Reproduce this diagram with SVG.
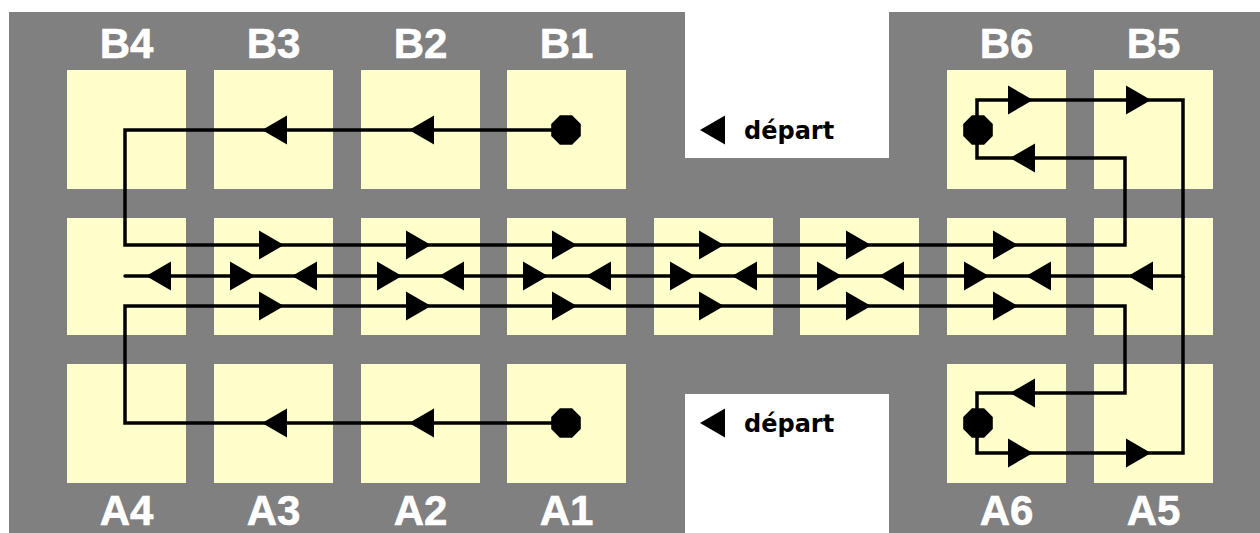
<svg xmlns="http://www.w3.org/2000/svg" xmlns:xlink="http://www.w3.org/1999/xlink" width="1260" height="533" viewBox="0 0 1260 533">
<style>
.cell{fill:#FFFFCC}
.lbl{font-family:"Liberation Sans",Arial,sans-serif;font-weight:bold;font-size:42px;fill:#FFFFFF;text-anchor:middle;stroke:#FFFFFF;stroke-width:0.6}
.dep{font-family:"DejaVu Sans",Verdana,sans-serif;font-weight:bold;font-size:24px;fill:#000000}
.ln{fill:none;stroke:#000000;stroke-width:3.5;stroke-linejoin:miter}
</style>
<defs>
<path id="ar" d="M0,0 L-25,-14.5 L-25,14.5 Z" fill="#000"/>
<path id="al" d="M0,0 L25,-14.5 L25,14.5 Z" fill="#000"/>
<path id="dot" d="M14.8,6.1 L6.1,14.8 L-6.1,14.8 L-14.8,6.1 L-14.8,-6.1 L-6.1,-14.8 L6.1,-14.8 L14.8,-6.1 Z" fill="#000"/>
</defs>
<rect width="1260" height="533" fill="#FFFFFF"/>
<path d="M9,12 H685 V158 H889 V12 H1260 V533 H889 V394 H685 V533 H9 Z" fill="#808080"/>

<g id="B4"><rect class="cell" x="67" y="70" width="119" height="119"/><text class="lbl" x="126.5" y="58">B4</text></g>
<g id="B3"><rect class="cell" x="214" y="70" width="119" height="119"/><text class="lbl" x="273.5" y="58">B3</text></g>
<g id="B2"><rect class="cell" x="361" y="70" width="119" height="119"/><text class="lbl" x="420.5" y="58">B2</text></g>
<g id="B1"><rect class="cell" x="507" y="70" width="119" height="119"/><text class="lbl" x="566.5" y="58">B1</text></g>
<g id="B6"><rect class="cell" x="947" y="70" width="119" height="119"/><text class="lbl" x="1006.5" y="58">B6</text></g>
<g id="B5"><rect class="cell" x="1094" y="70" width="119" height="119"/><text class="lbl" x="1153.5" y="58">B5</text></g>

<g id="M1"><rect class="cell" x="67" y="218" width="119" height="117"/></g>
<g id="M2"><rect class="cell" x="214" y="218" width="119" height="117"/></g>
<g id="M3"><rect class="cell" x="361" y="218" width="119" height="117"/></g>
<g id="M4"><rect class="cell" x="507" y="218" width="119" height="117"/></g>
<g id="M5"><rect class="cell" x="654" y="218" width="119" height="117"/></g>
<g id="M6"><rect class="cell" x="800" y="218" width="119" height="117"/></g>
<g id="M7"><rect class="cell" x="947" y="218" width="119" height="117"/></g>
<g id="M8"><rect class="cell" x="1094" y="218" width="119" height="117"/></g>

<g id="A4"><rect class="cell" x="67" y="364" width="119" height="119"/><text class="lbl" x="126.5" y="525">A4</text></g>
<g id="A3"><rect class="cell" x="214" y="364" width="119" height="119"/><text class="lbl" x="273.5" y="525">A3</text></g>
<g id="A2"><rect class="cell" x="361" y="364" width="119" height="119"/><text class="lbl" x="420.5" y="525">A2</text></g>
<g id="A1"><rect class="cell" x="507" y="364" width="119" height="119"/><text class="lbl" x="566.5" y="525">A1</text></g>
<g id="A6"><rect class="cell" x="947" y="364" width="119" height="119"/><text class="lbl" x="1006.5" y="525">A6</text></g>
<g id="A5"><rect class="cell" x="1094" y="364" width="119" height="119"/><text class="lbl" x="1153.5" y="525">A5</text></g>

<g id="depart-top"><use xlink:href="#al" x="700" y="130"/><text class="dep" x="744" y="139">départ</text></g>
<g id="depart-bottom"><use xlink:href="#al" x="700" y="423"/><text class="dep" x="744" y="432">départ</text></g>

<g id="connectors">
<path class="ln" d="M566,130 H125 V245 H1125 V158 H977 V100 H1183 V276 H125" stroke-linecap="round"/>
<path class="ln" d="M566,423 H125 V306 H1125 V393 H977 V453 H1183 V276"/>
<use xlink:href="#al" x="262" y="130"/>
<use xlink:href="#al" x="409" y="130"/>
<use xlink:href="#al" x="262" y="423"/>
<use xlink:href="#al" x="409" y="423"/>
<use xlink:href="#ar" x="284" y="245"/>
<use xlink:href="#ar" x="431" y="245"/>
<use xlink:href="#ar" x="577" y="245"/>
<use xlink:href="#ar" x="724" y="245"/>
<use xlink:href="#ar" x="871" y="245"/>
<use xlink:href="#ar" x="1018" y="245"/>
<use xlink:href="#ar" x="284" y="306"/>
<use xlink:href="#ar" x="431" y="306"/>
<use xlink:href="#ar" x="577" y="306"/>
<use xlink:href="#ar" x="724" y="306"/>
<use xlink:href="#ar" x="871" y="306"/>
<use xlink:href="#ar" x="1018" y="306"/>
<use xlink:href="#al" x="146" y="276"/>
<use xlink:href="#al" x="292" y="276"/>
<use xlink:href="#al" x="439" y="276"/>
<use xlink:href="#al" x="586" y="276"/>
<use xlink:href="#al" x="732" y="276"/>
<use xlink:href="#al" x="879" y="276"/>
<use xlink:href="#al" x="1026" y="276"/>
<use xlink:href="#al" x="1128" y="276"/>
<use xlink:href="#ar" x="255" y="276"/>
<use xlink:href="#ar" x="402" y="276"/>
<use xlink:href="#ar" x="548" y="276"/>
<use xlink:href="#ar" x="695" y="276"/>
<use xlink:href="#ar" x="842" y="276"/>
<use xlink:href="#ar" x="989" y="276"/>
<use xlink:href="#ar" x="1033" y="100"/>
<use xlink:href="#ar" x="1151" y="100"/>
<use xlink:href="#al" x="1010" y="158"/>
<use xlink:href="#al" x="1010" y="393"/>
<use xlink:href="#ar" x="1033" y="453"/>
<use xlink:href="#ar" x="1151" y="453"/>
<use xlink:href="#dot" x="566" y="130"/>
<use xlink:href="#dot" x="978" y="130"/>
<use xlink:href="#dot" x="566" y="423"/>
<use xlink:href="#dot" x="978" y="423"/>
</g>
</svg>
